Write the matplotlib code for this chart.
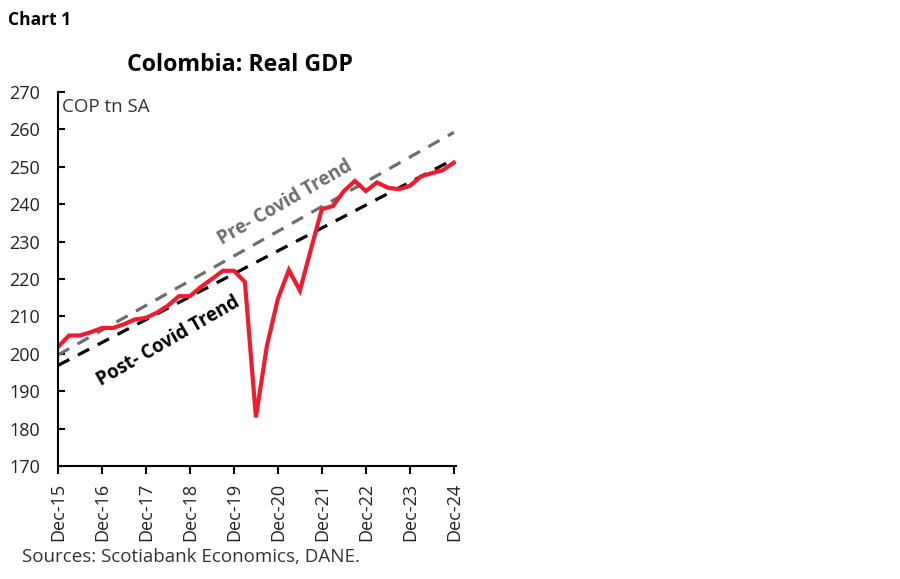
import matplotlib
matplotlib.use("Agg")
import matplotlib.pyplot as plt
import numpy as np

plt.rcParams['font.family'] = ['Open Sans', 'DejaVu Sans']

quarters = np.arange(37)  # Dec-15 .. Dec-24 quarterly
gdp = [201.8, 204.9, 204.9, 205.8, 206.9, 206.9, 207.9, 209.2, 209.6, 211.0,
       212.9, 215.4, 215.4, 217.9, 220.0, 222.2, 222.2, 219.2, 183.0, 202.1,
       214.7, 222.4, 216.9, 227.9, 238.7, 239.5, 243.5, 246.2, 243.5, 245.8,
       244.4, 244.0, 244.9, 247.4, 248.3, 249.1, 251.1]
pre_trend = [199.7, 259.2]
post_trend = [196.9, 252.0]
tick_labels = ['Dec-15', 'Dec-16', 'Dec-17', 'Dec-18', 'Dec-19', 'Dec-20',
               'Dec-21', 'Dec-22', 'Dec-23', 'Dec-24']
yticks = [170, 180, 190, 200, 210, 220, 230, 240, 250, 260, 270]

fig = plt.figure(figsize=(9, 5.79), dpi=100)
ax = fig.add_axes([58/900, 1-466/579, 398/900, (466-92)/579])

ax.plot([0, 36], pre_trend, color='#6e6e6e', lw=2.3, dashes=(4, 3))
ax.plot([0, 36], post_trend, color='black', lw=2.3, dashes=(4, 3))
ax.plot(quarters, gdp, color='#ee1c2e', lw=3, solid_joinstyle='miter')

ax.set_xlim(0, 36.2)
ax.set_ylim(170, 270)
ax.set_yticks(yticks)
ax.set_xticks(np.arange(0, 37, 4))
ax.set_xticklabels(tick_labels, rotation=90)
for s in ['top', 'right']:
    ax.spines[s].set_visible(False)
for s in ['left', 'bottom']:
    ax.spines[s].set_linewidth(1.5)
ax.tick_params(axis='y', direction='in', length=5, width=1.5, labelsize=13,
               labelcolor='#222222', pad=13)
ax.tick_params(axis='x', direction='out', length=6, width=1.5, labelsize=13,
               labelcolor='#222222', pad=6)

ax.text(0.01, 0.985, 'COP tn SA', transform=ax.transAxes, ha='left', va='top',
        fontsize=13.5, color='#333333')
ax.text(20.7, 240.4, 'Pre- Covid Trend', rotation=30, ha='center', va='center',
        fontsize=13.5, fontweight='bold', color='#6e6e6e', rotation_mode='anchor')
ax.text(10.0, 203.3, 'Post- Covid Trend', rotation=30, ha='center', va='center',
        fontsize=13.5, fontweight='bold', color='black', rotation_mode='anchor')

fig.text(8/900, 1-20/579, 'Chart 1', ha='left', va='center', fontsize=12.5,
         fontweight='bold', color='black')
fig.text(240/900, 1-65/579, 'Colombia: Real GDP', ha='center', va='center',
         fontsize=16.7, fontweight='bold', color='black')
fig.text(22/900, 1-557/579, 'Sources: Scotiabank Economics, DANE.', ha='left',
         va='center', fontsize=13.5, color='#333333')

fig.savefig('out.png', dpi=100)
